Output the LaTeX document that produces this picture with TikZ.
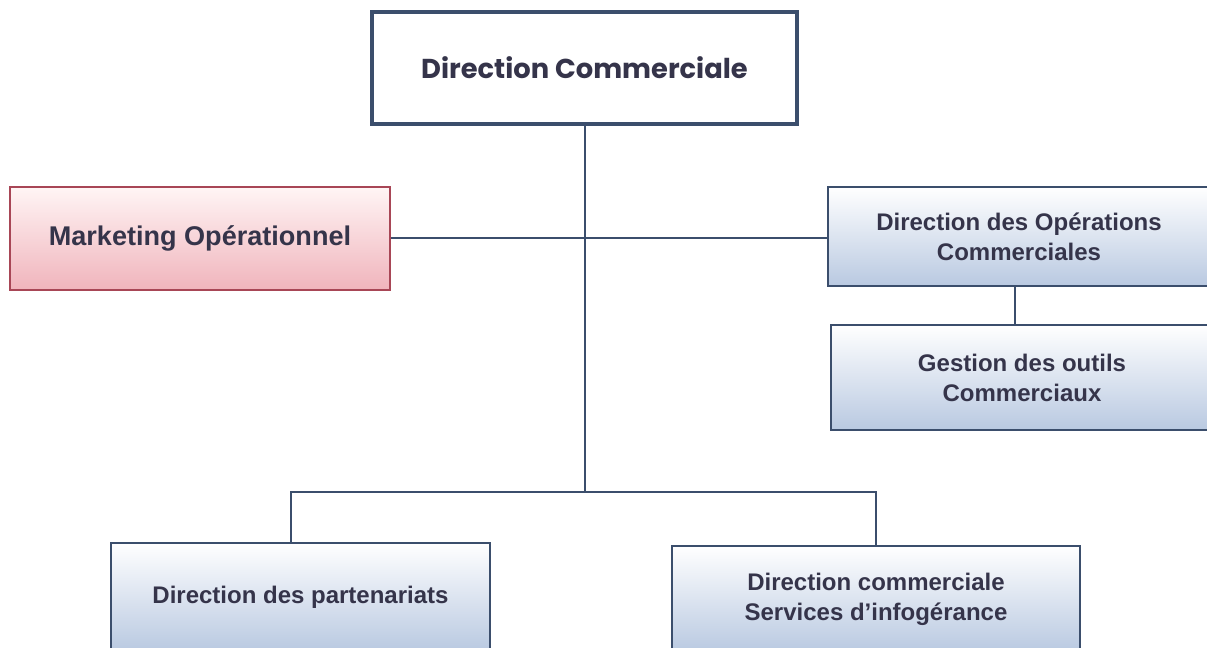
\documentclass[tikz,border=0pt]{standalone}
\usepackage{fontspec}
\setmainfont{Liberation Sans}
\newfontfamily\gothicfont{Poppins}
\usepackage{tikz}
\usetikzlibrary{positioning, calc}
\definecolor{inkdark}{HTML}{35344A}
\definecolor{slateline}{HTML}{3B4E6C}
\definecolor{rosefill}{HTML}{F0B4BC}
\definecolor{roseline}{HTML}{A84656}
\definecolor{bluefill}{HTML}{B9C9E1}
\tikzset{
    unit/.style={
        rectangle, draw=slateline, line width=1.6pt,
        top color=white, bottom color=bluefill,
        align=center, text=inkdark,
        font=\fontsize{18}{22.5}\selectfont\bfseries,
        inner sep=0pt
    },
    head/.style={
        rectangle, draw=slateline, line width=3pt, fill=white,
        align=center, text=inkdark,
        font=\gothicfont\fontsize{20.5}{24}\selectfont\bfseries,
        inner sep=0pt
    },
    marketing/.style={
        unit, draw=roseline, top color=red!4, bottom color=rosefill,
        font=\fontsize{20.3}{24}\selectfont\bfseries
    },
    link/.style={draw=slateline, line width=1.5pt}
}
\begin{document}
\begin{tikzpicture}[x=0.75pt, y=-0.75pt]
    \useasboundingbox (0,0) rectangle (1207,648);
    % boxes
    \node (dc) [head, minimum width=425*0.75pt, minimum height=112*0.75pt] at (584.5,68) {Direction Commerciale};
    \node (mkt) [marketing, minimum width=380*0.75pt, minimum height=103*0.75pt] at (200,238.5) {Marketing Opérationnel};
    \node (dops) [unit, minimum width=382*0.75pt, minimum height=99*0.75pt] at (1019,236.5) {Direction des Opérations\\Commerciales};
    \node (outils) [unit, minimum width=382*0.75pt, minimum height=105*0.75pt] at (1022,377.5) {Gestion des outils\\Commerciaux};
    \node (part) [unit, minimum width=379*0.75pt, minimum height=108*0.75pt] at (300.5,597) {Direction des partenariats};
    \node (infog) [unit, minimum width=408*0.75pt, minimum height=106*0.75pt] at (876,599) {Direction commerciale\\Services d’infogérance};
    % links
    \coordinate (hub) at ($(dc.south)+(0,366)$);
    \coordinate (partin) at ($(part.north)+(-9.5,0)$);
    \coordinate (outin) at ($(outils.north)+(-7,0)$);
    \draw [link] (dc.south) -- (hub);
    \draw [link] (mkt.east) -- (mkt.east -| dops.west);
    \draw [link] (outin |- dops.south) -- (outin);
    \draw [link] (partin) |- (hub) -| (infog.north);
\end{tikzpicture}
\end{document}
